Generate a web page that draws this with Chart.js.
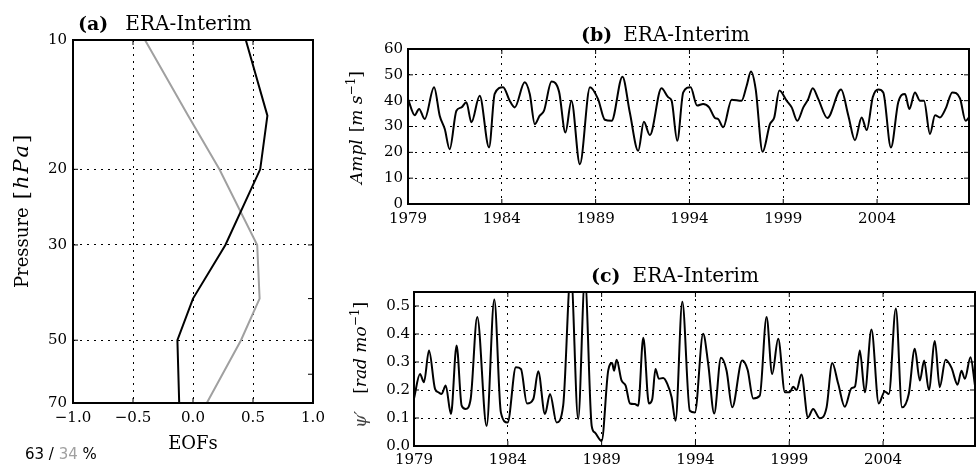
<!DOCTYPE html>
<html>
<head>
<meta charset="utf-8">
<script src="https://cdn.jsdelivr.net/npm/chart.js@4.4.0/dist/chart.umd.min.js"></script>
<style>
html,body{margin:0;padding:0;background:#fff;}
#wrap{position:relative;width:976px;height:469px;overflow:hidden;background:#fff;}
#wrap canvas{position:absolute;left:0;top:0;}
</style>
</head>
<body>
<div id="wrap">
<canvas id="chartA" width="976" height="469" style="width:976px;height:469px"></canvas>
<canvas id="chartB" width="976" height="469" style="width:976px;height:469px"></canvas>
<canvas id="chartC" width="976" height="469" style="width:976px;height:469px"></canvas>
</div>
<script>
// ---------------- data ----------------
const eofLevels = [10, 15, 20, 30, 40, 50, 70];
const eof1 = [0.44, 0.62, 0.56, 0.27, 0.0, -0.13, -0.115];
const eof2 = [-0.40, -0.04, 0.22, 0.535, 0.555, 0.40, 0.115];
const eofXTicks = [-1, -0.5, 0, 0.5, 1];
const pressureTicks = [10, 20, 30, 40, 50, 60, 70];
const pressureLabeled = [10, 20, 30, 50, 70];
const pressureGrid = [20, 30, 50];
const varianceExplained = ['63', '34'];

const yearTicks = [1979, 1984, 1989, 1994, 1999, 2004];
const amplTicks = [0, 10, 20, 30, 40, 50, 60];
const psiTicks = [0, 0.1, 0.2, 0.3, 0.4, 0.5];

const amplYears = [1979.00,1979.36,1979.59,1979.89,1980.39,1980.69,1980.96,1981.22,1981.58,1981.85,
  1982.11,1982.38,1982.82,1983.32,1983.62,1984.07,1984.42,1984.69,1985.22,1985.49,
  1985.76,1986.02,1986.25,1986.65,1987.05,1987.39,1987.71,1988.16,1988.70,1989.13,
  1989.49,1989.85,1990.43,1990.82,1991.27,1991.57,1991.89,1992.51,1992.87,1993.05,
  1993.35,1993.67,1994.06,1994.41,1994.73,1995.05,1995.36,1995.53,1995.80,1996.25,
  1996.78,1997.05,1997.28,1997.53,1997.90,1998.29,1998.52,1998.79,1999.18,1999.45,
  1999.75,2000.07,2000.33,2000.57,2000.87,2001.35,2002.08,2002.47,2002.82,2003.18,
  2003.45,2003.77,2004.07,2004.33,2004.74,2005.13,2005.49,2005.72,2006.02,2006.29,
  2006.50,2006.82,2007.09,2007.35,2007.66,2008.01,2008.42,2008.72,2008.90];
const amplValues = [40.6,34.4,36.8,32.9,45.2,34.2,29.0,21.2,36.1,37.4,
  39.4,31.6,41.9,21.9,42.6,45.2,40.0,37.4,47.1,42.6,
  30.9,34.2,36.1,47.4,43.5,27.7,40.0,15.4,45.2,40.6,
  32.6,32.2,49.3,35.5,20.6,31.8,26.7,44.8,41.3,40.0,
  24.5,43.2,45.2,38.1,38.7,37.4,33.3,32.9,29.7,40.4,
  40.0,45.8,51.3,44.5,20.2,30.9,33.5,43.9,40.0,37.4,
  32.2,37.4,40.6,44.8,40.6,33.3,44.3,34.2,24.7,33.5,
  28.6,41.3,44.3,43.2,21.9,39.4,42.6,36.8,43.2,40.0,
  40.0,27.1,34.4,33.5,37.0,43.2,40.9,32.2,33.5];

const psiYears = [1979.00,1979.32,1979.53,1979.80,1980.12,1980.30,1980.47,1980.69,1980.97,1981.27,
  1981.54,1981.75,1982.02,1982.37,1982.87,1983.28,1983.63,1983.99,1984.43,1984.70,
  1985.02,1985.36,1985.62,1985.98,1986.25,1986.60,1986.95,1987.36,1987.75,1988.11,
  1988.47,1988.64,1989.00,1989.35,1989.56,1989.66,1989.80,1990.06,1990.28,1990.51,
  1990.77,1990.95,1991.22,1991.52,1991.70,1991.87,1992.05,1992.28,1992.50,1992.73,
  1992.94,1993.30,1993.70,1993.97,1994.41,1994.68,1995.00,1995.36,1995.66,1995.96,
  1996.49,1996.78,1997.08,1997.43,1997.79,1998.09,1998.41,1998.77,1999.03,1999.21,
  1999.39,1999.65,2000.00,2000.27,2000.63,2000.99,2001.29,2001.61,2001.96,2002.32,
  2002.50,2002.76,2003.03,2003.38,2003.77,2004.09,2004.31,2004.68,2005.01,2005.37,
  2005.69,2005.96,2006.19,2006.44,2006.76,2007.02,2007.33,2007.65,2007.97,2008.18,
  2008.36,2008.66,2008.90];
const psiValues = [0.170,0.257,0.228,0.341,0.204,0.192,0.186,0.216,0.114,0.359,
  0.144,0.132,0.168,0.461,0.072,0.523,0.120,0.084,0.281,0.275,
  0.152,0.168,0.267,0.114,0.186,0.084,0.144,0.620,0.096,0.600,
  0.072,0.048,0.018,0.269,0.296,0.269,0.308,0.234,0.216,0.152,
  0.150,0.144,0.387,0.152,0.168,0.275,0.240,0.243,0.222,0.174,
  0.090,0.515,0.126,0.120,0.401,0.293,0.116,0.315,0.269,0.138,
  0.305,0.272,0.170,0.180,0.461,0.257,0.383,0.192,0.192,0.212,
  0.200,0.255,0.102,0.132,0.099,0.138,0.296,0.222,0.140,0.207,
  0.212,0.341,0.192,0.416,0.152,0.195,0.186,0.491,0.138,0.186,
  0.347,0.234,0.305,0.200,0.375,0.210,0.308,0.279,0.219,0.269,
  0.240,0.317,0.216];

// ---------------- helpers ----------------
const W = 976, H = 469;
const SERIF = '"DejaVu Serif", serif';
const SANS = '"DejaVu Sans", sans-serif';
Chart.defaults.font.family = SERIF;
Chart.defaults.color = '#000';

function padFor(area, yW, xH) {
  return { left: area.l - yW, top: area.t, right: W - area.r, bottom: H - area.b - xH };
}

function drawRuns(ctx, x, y, runs) {
  let cx = x;
  for (const r of runs) {
    ctx.font = r.font;
    ctx.fillStyle = r.color || '#000';
    cx += (r.gap || 0);
    ctx.fillText(r.t, cx, y + (r.dy || 0));
    cx += ctx.measureText(r.t).width;
  }
}
// rotated text reading bottom-to-top, starting at (cx, yBottom)
function drawRotatedFrom(ctx, cx, yBottom, runs) {
  ctx.save();
  ctx.translate(cx, yBottom);
  ctx.rotate(-Math.PI / 2);
  ctx.textBaseline = 'middle';
  ctx.textAlign = 'left';
  drawRuns(ctx, 0, 0, runs);
  ctx.restore();
}

function frameAndTicks(chart, xVals, yLeft, yRight, len) {
  const a = chart.chartArea, ctx = chart.ctx;
  const xs = chart.scales.x, ys = chart.scales.y;
  ctx.save();
  ctx.setLineDash([]);
  ctx.strokeStyle = '#000';
  ctx.lineWidth = 1;
  ctx.beginPath();
  for (const v of xVals) {
    const p = xs.getPixelForValue(v);
    ctx.moveTo(p, a.bottom); ctx.lineTo(p, a.bottom - len);
    ctx.moveTo(p, a.top); ctx.lineTo(p, a.top + len);
  }
  for (const v of yLeft) {
    const p = ys.getPixelForValue(v);
    ctx.moveTo(a.left, p); ctx.lineTo(a.left + len, p);
  }
  for (const v of yRight) {
    const p = ys.getPixelForValue(v);
    ctx.moveTo(a.right, p); ctx.lineTo(a.right - len, p);
  }
  ctx.stroke();
  ctx.lineWidth = 2;
  ctx.strokeRect(a.left, a.top, a.right - a.left, a.bottom - a.top);
  ctx.restore();
}

const DOT = [2, 5];
const tickFont = { family: SERIF, size: 15 };

// ---------------- panel (a) ----------------
const areaA = { l: 73, t: 40, r: 313, b: 403 };
const yWA = 40, xHA = 30;
new Chart(document.getElementById('chartA'), {
  type: 'line',
  data: {
    datasets: [
      { label: 'EOF1', data: eofLevels.map((p, i) => ({ x: eof1[i], y: p })),
        borderColor: '#000', borderWidth: 2, pointRadius: 0, tension: 0, fill: false },
      { label: 'EOF2', data: eofLevels.map((p, i) => ({ x: eof2[i], y: p })),
        borderColor: '#a0a0a0', borderWidth: 2, pointRadius: 0, tension: 0, fill: false }
    ]
  },
  options: {
    responsive: false, animation: false, events: [],
    layout: { padding: padFor(areaA, yWA, xHA) },
    plugins: { legend: { display: false }, title: { display: false }, tooltip: { enabled: false } },
    scales: {
      x: {
        type: 'linear', min: -1, max: 1,
        afterBuildTicks: s => { s.ticks = eofXTicks.map(v => ({ value: v })); },
        afterFit: s => { s.height = xHA; },
        ticks: { font: tickFont, padding: 6, maxRotation: 0, autoSkip: false,
          callback: v => (v < 0 ? '\u2212' : '') + Math.abs(v).toFixed(1) },
        grid: { color: '#000', lineWidth: 1, drawTicks: false },
        border: { display: false, dash: DOT }
      },
      y: {
        type: 'logarithmic', min: 10, max: 70, reverse: true,
        afterBuildTicks: s => { s.ticks = pressureTicks.map(v => ({ value: v })); },
        afterFit: s => { s.width = yWA; },
        ticks: { font: tickFont, padding: 6, autoSkip: false,
          callback: v => pressureLabeled.includes(v) ? String(v) : '' },
        grid: { drawTicks: false, lineWidth: 1,
          color: c => (c.tick && pressureGrid.includes(c.tick.value)) ? '#000' : 'rgba(0,0,0,0)' },
        border: { display: false, dash: DOT }
      }
    }
  },
  plugins: [{
    id: 'decoA',
    afterDraw(chart) {
      const ctx = chart.ctx;
      frameAndTicks(chart, eofXTicks, pressureLabeled, pressureTicks, 5);
      ctx.save();
      ctx.textBaseline = 'alphabetic'; ctx.textAlign = 'left';
      drawRuns(ctx, 78, 30, [
        { t: '(a)', font: 'bold 19px ' + SERIF },
        { t: 'ERA-Interim', font: '20px ' + SERIF, gap: 17 }
      ]);
      ctx.textAlign = 'center'; ctx.textBaseline = 'middle';
      ctx.font = '18px ' + SERIF; ctx.fillStyle = '#000';
      ctx.fillText('EOFs', 193, 444);
      ctx.textAlign = 'left'; ctx.textBaseline = 'middle';
      drawRuns(ctx, 25, 455, [
        { t: varianceExplained[0] + ' / ', font: '15px ' + SANS, color: '#000' },
        { t: varianceExplained[1], font: '15px ' + SANS, color: '#a0a0a0' },
        { t: ' %', font: '15px ' + SANS, color: '#000' }
      ]);
      drawRotatedFrom(ctx, 23, 288, [
        { t: 'Pressure', font: '18px ' + SERIF },
        { t: '[', font: '21px ' + SERIF, gap: 8 },
        { t: 'h', font: 'italic 21px ' + SERIF, gap: 2 },
        { t: 'P', font: 'italic 21px ' + SERIF, gap: 2 },
        { t: 'a', font: 'italic 21px ' + SERIF, gap: 2 },
        { t: ']', font: '21px ' + SERIF, gap: 2 }
      ]);
      ctx.restore();
    }
  }]
});

// ---------------- panel (b) ----------------
const areaB = { l: 408, t: 49, r: 969, b: 204 };
const yWB = 40, xHB = 30;
new Chart(document.getElementById('chartB'), {
  type: 'line',
  data: {
    datasets: [{ label: 'Ampl', data: amplYears.map((x, i) => ({ x: x, y: amplValues[i] })),
      borderColor: '#000', borderWidth: 2, pointRadius: 0, cubicInterpolationMode: 'monotone', fill: false }]
  },
  options: {
    responsive: false, animation: false, events: [],
    layout: { padding: padFor(areaB, yWB, xHB) },
    plugins: { legend: { display: false }, title: { display: false }, tooltip: { enabled: false } },
    scales: {
      x: {
        type: 'linear', min: 1979, max: 2008.9,
        afterBuildTicks: s => { s.ticks = yearTicks.map(v => ({ value: v })); },
        afterFit: s => { s.height = xHB; },
        ticks: { font: tickFont, padding: 6, maxRotation: 0, autoSkip: false, callback: v => String(v) },
        grid: { color: '#000', lineWidth: 1, drawTicks: false },
        border: { display: false, dash: DOT }
      },
      y: {
        type: 'linear', min: 0, max: 60,
        afterBuildTicks: s => { s.ticks = amplTicks.map(v => ({ value: v })); },
        afterFit: s => { s.width = yWB; },
        ticks: { font: tickFont, padding: 5, autoSkip: false, callback: v => String(v) },
        grid: { color: '#000', lineWidth: 1, drawTicks: false },
        border: { display: false, dash: DOT }
      }
    }
  },
  plugins: [{
    id: 'decoB',
    afterDraw(chart) {
      const ctx = chart.ctx;
      frameAndTicks(chart, yearTicks, amplTicks, amplTicks, 5);
      ctx.save();
      ctx.textBaseline = 'alphabetic'; ctx.textAlign = 'left';
      drawRuns(ctx, 581, 41, [
        { t: '(b)', font: 'bold 19px ' + SERIF },
        { t: 'ERA-Interim', font: '20px ' + SERIF, gap: 11 }
      ]);
      drawRotatedFrom(ctx, 358, 184, [
        { t: 'Ampl', font: 'italic 17px ' + SERIF },
        { t: '[', font: '17px ' + SERIF, gap: 7 },
        { t: 'm s', font: 'italic 17px ' + SERIF },
        { t: '\u22121', font: '12px ' + SERIF, dy: -6 },
        { t: ']', font: '17px ' + SERIF }
      ]);
      ctx.restore();
    }
  }]
});

// ---------------- panel (c) ----------------
const areaC = { l: 414, t: 292, r: 975, b: 446 };
const yWC = 40, xHC = 22;
new Chart(document.getElementById('chartC'), {
  type: 'line',
  data: {
    datasets: [{ label: 'psi', data: psiYears.map((x, i) => ({ x: x, y: psiValues[i] })),
      borderColor: '#000', borderWidth: 2, pointRadius: 0, cubicInterpolationMode: 'monotone', fill: false }]
  },
  options: {
    responsive: false, animation: false, events: [],
    layout: { padding: padFor(areaC, yWC, xHC) },
    plugins: { legend: { display: false }, title: { display: false }, tooltip: { enabled: false } },
    scales: {
      x: {
        type: 'linear', min: 1979, max: 2008.9,
        afterBuildTicks: s => { s.ticks = yearTicks.map(v => ({ value: v })); },
        afterFit: s => { s.height = xHC; },
        ticks: { font: tickFont, padding: 5, maxRotation: 0, autoSkip: false, callback: v => String(v) },
        grid: { color: '#000', lineWidth: 1, drawTicks: false },
        border: { display: false, dash: DOT }
      },
      y: {
        type: 'linear', min: 0, max: 0.55,
        afterBuildTicks: s => { s.ticks = psiTicks.map(v => ({ value: v })); },
        afterFit: s => { s.width = yWC; },
        ticks: { font: tickFont, padding: 4, autoSkip: false, callback: v => v.toFixed(1) },
        grid: { color: '#000', lineWidth: 1, drawTicks: false },
        border: { display: false, dash: DOT }
      }
    }
  },
  plugins: [{
    id: 'decoC',
    afterDraw(chart) {
      const ctx = chart.ctx;
      frameAndTicks(chart, yearTicks, psiTicks, psiTicks, 5);
      ctx.save();
      ctx.textBaseline = 'alphabetic'; ctx.textAlign = 'left';
      drawRuns(ctx, 591, 282, [
        { t: '(c)', font: 'bold 19px ' + SERIF },
        { t: 'ERA-Interim', font: '20px ' + SERIF, gap: 12 }
      ]);
      drawRotatedFrom(ctx, 362, 428, [
        { t: '\u03C8\u2032', font: 'italic 17px ' + SERIF, color: '#444' },
        { t: '[', font: '17px ' + SERIF, gap: 17 },
        { t: 'rad mo', font: 'italic 17px ' + SERIF },
        { t: '\u22121', font: '12px ' + SERIF, dy: -6 },
        { t: ']', font: '17px ' + SERIF }
      ]);
      ctx.restore();
    }
  }]
});
</script>
</body>
</html>
